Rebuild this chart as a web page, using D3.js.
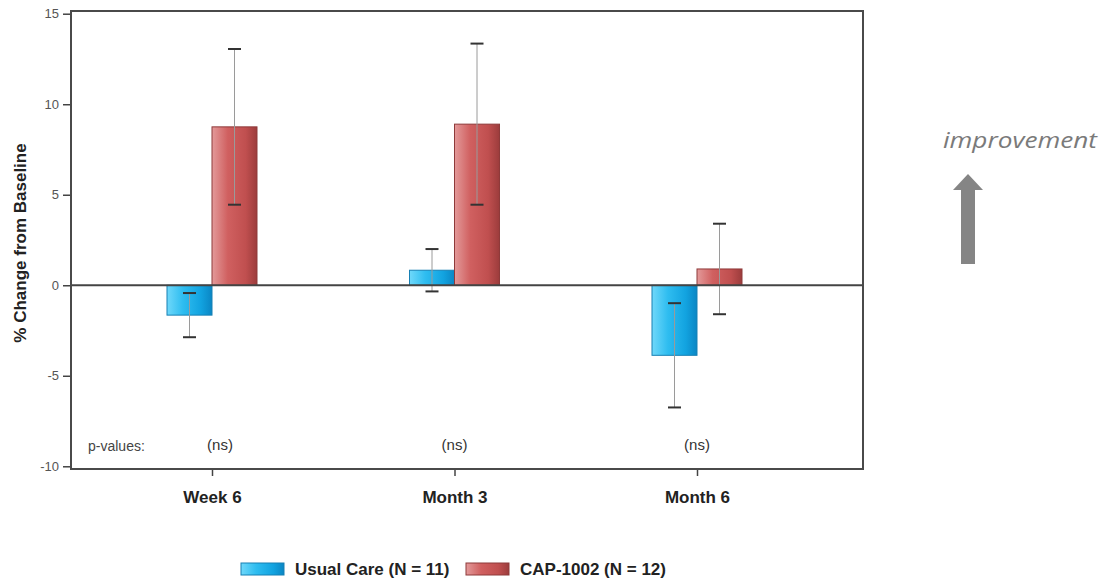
<!DOCTYPE html>
<html>
<head>
<meta charset="utf-8">
<script src="https://cdn.jsdelivr.net/npm/d3@7"></script>
<style>
  html, body { margin: 0; padding: 0; background: #fff; }
  svg { display: block; }
</style>
</head>
<body>
<svg id="chart" width="1108" height="584"></svg>
<script>
// Timepoints and treatment groups
const categories = ["Week 6", "Month 3", "Month 6"];
const seriesNames = ["Usual Care (N = 11)", "CAP-1002 (N = 12)"];
// Mean % change from baseline per timepoint
const usualCare = [-1.65, 0.83, -3.87];
const cap1002   = [8.75, 8.9, 0.9];
// Error half-widths (standard error)
const usualCareErr = [1.22, 1.17, 2.88];
const cap1002Err   = [4.3, 4.45, 2.5];
const pValues = ["(ns)", "(ns)", "(ns)"];
const yTicks = [-10, -5, 0, 5, 10, 15];

const svg = d3.select("#chart");
const plot = { left: 71, right: 863, top: 11, bottom: 469 };

const y = d3.scaleLinear().domain([-10.15, 15.15]).range([plot.bottom, plot.top]);
const x0 = d3.scalePoint().domain(categories).range([212, 697]);
const x1 = d3.scaleBand().domain(seriesNames).range([-45, 45]);

const sans = "'Liberation Sans', Arial, sans-serif";
const narrow = "'Liberation Sans Narrow', 'Arial Narrow', 'Liberation Sans', Arial, sans-serif";

// Gradients for the shaded bars
const defs = svg.append("defs");
function grad(id, stops) {
  const g = defs.append("linearGradient").attr("id", id)
    .attr("x1", "0%").attr("x2", "100%").attr("y1", "0%").attr("y2", "0%");
  stops.forEach(([o, c]) => g.append("stop").attr("offset", o).attr("stop-color", c));
}
grad("gBlue", [["0%", "#6fd8fa"], ["35%", "#2fbdf0"], ["75%", "#12a3e0"], ["100%", "#0a86c4"]]);
grad("gRed", [["0%", "#e39a9a"], ["35%", "#d06060"], ["75%", "#c04f4f"], ["100%", "#9c3c3c"]]);

const styles = [
  { fill: "url(#gBlue)", stroke: "#1780b4" },
  { fill: "url(#gRed)", stroke: "#8e3a3a" }
];

// Y axis
const yAxis = d3.axisLeft(y).tickValues(yTicks).tickSize(8).tickPadding(4)
  .tickFormat(d => d < 0 ? "-" + Math.abs(d) : String(d));
const yg = svg.append("g").attr("transform", `translate(${plot.left},0)`).call(yAxis);
yg.select(".domain").remove();
yg.selectAll(".tick line").attr("stroke", "#444").attr("stroke-width", 1.5);
yg.selectAll(".tick text")
  .attr("fill", "#555")
  .style("font-family", narrow)
  .style("font-size", "13px");

// X axis
const xAxis = d3.axisBottom(x0).tickSize(7).tickPadding(15);
const xg = svg.append("g").attr("transform", `translate(0,${plot.bottom})`).call(xAxis);
xg.select(".domain").remove();
xg.selectAll(".tick line").attr("stroke", "#444").attr("stroke-width", 1.5);
xg.selectAll(".tick text")
  .attr("fill", "#222")
  .style("font-family", sans)
  .style("font-weight", "bold")
  .style("font-size", "17px");

// Bars
const rows = categories.map((c, i) => ({
  cat: c,
  vals: [
    { s: seriesNames[0], v: usualCare[i], e: usualCareErr[i], k: 0 },
    { s: seriesNames[1], v: cap1002[i], e: cap1002Err[i], k: 1 }
  ]
}));

const groups = svg.append("g").selectAll("g").data(rows).join("g")
  .attr("transform", d => `translate(${x0(d.cat)},0)`);

groups.selectAll("rect").data(d => d.vals).join("rect")
  .attr("x", d => x1(d.s))
  .attr("width", x1.bandwidth())
  .attr("y", d => y(Math.max(0, d.v)))
  .attr("height", d => Math.abs(y(d.v) - y(0)))
  .attr("fill", d => styles[d.k].fill)
  .attr("stroke", d => styles[d.k].stroke)
  .attr("stroke-width", 1);

// Zero reference line
svg.append("line")
  .attr("x1", plot.left).attr("x2", plot.right)
  .attr("y1", y(0)).attr("y2", y(0))
  .attr("stroke", "#444").attr("stroke-width", 2);

// Error bars
const eb = groups.selectAll("g.err").data(d => d.vals).join("g").attr("class", "err")
  .attr("transform", d => `translate(${x1(d.s) + x1.bandwidth() / 2},0)`);
eb.append("line")
  .attr("x1", 0).attr("x2", 0)
  .attr("y1", d => y(d.v + d.e)).attr("y2", d => y(d.v - d.e))
  .attr("stroke", "#9a9a9a").attr("stroke-width", 1);
eb.append("line")
  .attr("x1", -6.5).attr("x2", 6.5)
  .attr("y1", d => y(d.v + d.e)).attr("y2", d => y(d.v + d.e))
  .attr("stroke", "#333").attr("stroke-width", 2);
eb.append("line")
  .attr("x1", -6.5).attr("x2", 6.5)
  .attr("y1", d => y(d.v - d.e)).attr("y2", d => y(d.v - d.e))
  .attr("stroke", "#333").attr("stroke-width", 2);

// Plot frame
svg.append("rect")
  .attr("x", plot.left).attr("y", plot.top)
  .attr("width", plot.right - plot.left).attr("height", plot.bottom - plot.top)
  .attr("fill", "none").attr("stroke", "#4a4a4a").attr("stroke-width", 2);

// p-value row
svg.append("text").attr("x", 88).attr("y", 451)
  .attr("fill", "#444").style("font-family", narrow).style("font-size", "14px")
  .text("p-values:");
svg.append("g").selectAll("text").data(categories).join("text")
  .attr("x", (d, i) => x0(d) + (i === 0 ? 8 : 0))
  .attr("y", 450)
  .attr("text-anchor", "middle")
  .attr("fill", "#333").style("font-family", narrow).style("font-size", "15px")
  .text((d, i) => pValues[i]);

// Y axis title
svg.append("text")
  .attr("transform", `translate(26,${(plot.top + plot.bottom) / 2 + 3}) rotate(-90)`)
  .attr("text-anchor", "middle")
  .attr("fill", "#222")
  .style("font-family", sans)
  .style("font-weight", "bold").style("font-size", "17px")
  .text("% Change from Baseline");

// Legend
const legendX = [241, 466];
const lg = svg.append("g").selectAll("g").data(seriesNames).join("g")
  .attr("transform", (d, i) => `translate(${legendX[i]},563)`);
lg.append("rect").attr("width", 43).attr("height", 12)
  .attr("fill", (d, i) => styles[i].fill).attr("stroke", (d, i) => styles[i].stroke);
lg.append("text").attr("x", 54).attr("y", 12)
  .attr("fill", "#222")
  .style("font-family", sans)
  .style("font-weight", "bold").style("font-size", "17px")
  .text(d => d);

// Improvement annotation
svg.append("text").attr("x", 943).attr("y", 148)
  .attr("fill", "#7a7a7a")
  .attr("textLength", 154).attr("lengthAdjust", "spacingAndGlyphs")
  .style("font-family", "'Open Sans', 'DejaVu Sans', sans-serif")
  .style("font-style", "italic").style("font-size", "22px")
  .text("improvement");
svg.append("path")
  .attr("d", "M961,264 L961,190 L953,190 L968,174 L983,190 L975,190 L975,264 Z")
  .attr("fill", "#858585");
</script>
</body>
</html>
